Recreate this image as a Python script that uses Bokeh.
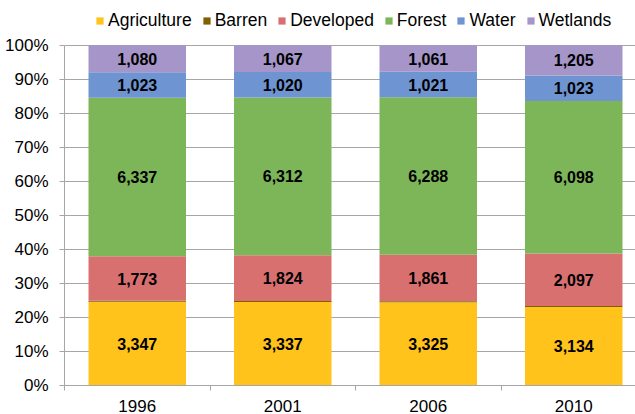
from bokeh.plotting import figure
from bokeh.models import (ColumnDataSource, FixedTicker, NumeralTickFormatter,
                          Legend, LegendItem, Range1d)
from bokeh.core.properties import value
from bokeh.embed import file_html
from bokeh.resources import INLINE

years = ["1996", "2001", "2006", "2010"]
agriculture = [3347, 3337, 3325, 3134]
barren = [45, 45, 45, 45]
developed = [1773, 1824, 1861, 2097]
forest = [6337, 6312, 6288, 6098]
water = [1023, 1020, 1021, 1023]
wetlands = [1080, 1067, 1061, 1205]

series = ["Agriculture", "Barren", "Developed", "Forest", "Water", "Wetlands"]
raw = [agriculture, barren, developed, forest, water, wetlands]
colors = ["#FFC31C", "#7F6000", "#D87070", "#7DB559", "#6E94D1", "#A595C8"]
y_ticks = [i / 10 for i in range(11)]

xs = list(range(1, len(years) + 1))
totals = [sum(col) for col in zip(*raw)]
data = {"x": xs}
for name, vals in zip(series, raw):
    data[name] = [v / t for v, t in zip(vals, totals)]
source = ColumnDataSource(data)

FONT = "Liberation Sans"

# frame: left 64, right 635, top 0, bottom 387 ; 100% line at y=45
p = figure(width=635, height=414, output_backend="svg", toolbar_location=None,
           x_range=Range1d(0.5, 0.5 + 571 / 145.5), y_range=Range1d(0, 387 / 342),
           min_border_left=64, min_border_right=0, min_border_top=0,
           min_border_bottom=27)
p.outline_line_color = None
p.background_fill_color = "white"

renderers = p.vbar_stack(series, x="x", width=0.67, source=source,
                         color=colors, line_color=None)

# data labels
lx, ly, lt = [], [], []
for idx, (name, vals) in enumerate(zip(series, raw)):
    if name == "Barren":
        continue
    for i, v in enumerate(vals):
        below = sum(raw[k][i] for k in range(idx)) / totals[i]
        lx.append(xs[i])
        ly.append(below + v / totals[i] / 2)
        lt.append(f"{v:,}")
lsrc = ColumnDataSource(dict(x=lx, y=ly, t=lt))
p.text(x="x", y="y", text="t", source=lsrc, text_align="center",
       text_baseline="middle", text_font=value(FONT), text_font_size="16px",
       text_font_style="bold", text_color="black")

# axes
p.xgrid.grid_line_color = None
p.ygrid.grid_line_color = "#A6A6A6"
p.ygrid.ticker = FixedTicker(ticks=y_ticks)

p.yaxis.ticker = FixedTicker(ticks=y_ticks)
p.yaxis.bounds = (0, 1)
p.yaxis.formatter = NumeralTickFormatter(format="0%")
p.yaxis.axis_line_color = "#A6A6A6"
p.yaxis.major_tick_line_color = "#A6A6A6"
p.yaxis.major_tick_out = 5
p.yaxis.major_tick_in = 0
p.yaxis.minor_tick_line_color = None
p.yaxis.major_label_text_font = FONT
p.yaxis.major_label_text_font_size = "17px"
p.yaxis.major_label_text_color = "black"
p.yaxis.major_label_standoff = 11

p.xaxis.ticker = FixedTicker(ticks=xs, minor_ticks=[0.5, 1.5, 2.5, 3.5, 4.5])
p.xaxis.major_label_overrides = {x: y for x, y in zip(xs, years)}
p.xaxis.axis_line_color = "#A6A6A6"
p.xaxis.major_tick_line_color = None
p.xaxis.major_tick_out = 0
p.xaxis.major_tick_in = 0
p.xaxis.minor_tick_line_color = "#A6A6A6"
p.xaxis.minor_tick_out = 5
p.xaxis.minor_tick_in = 0
p.xaxis.major_label_text_font = FONT
p.xaxis.major_label_text_font_size = "17px"
p.xaxis.major_label_text_color = "black"
p.xaxis.major_label_standoff = 9

legend = Legend(items=[LegendItem(label=n, renderers=[r]) for n, r in zip(series, renderers)],
                orientation="horizontal", location=(31, 354),
                label_text_font=FONT, label_text_font_size="17.5px",
                label_text_color="black", glyph_width=9, glyph_height=9,
                label_height=20, label_standoff=4, spacing=10, padding=0,
                margin=0, border_line_color=None, background_fill_alpha=0)
p.add_layout(legend)

open("out.html", "w").write(file_html(p, INLINE))
